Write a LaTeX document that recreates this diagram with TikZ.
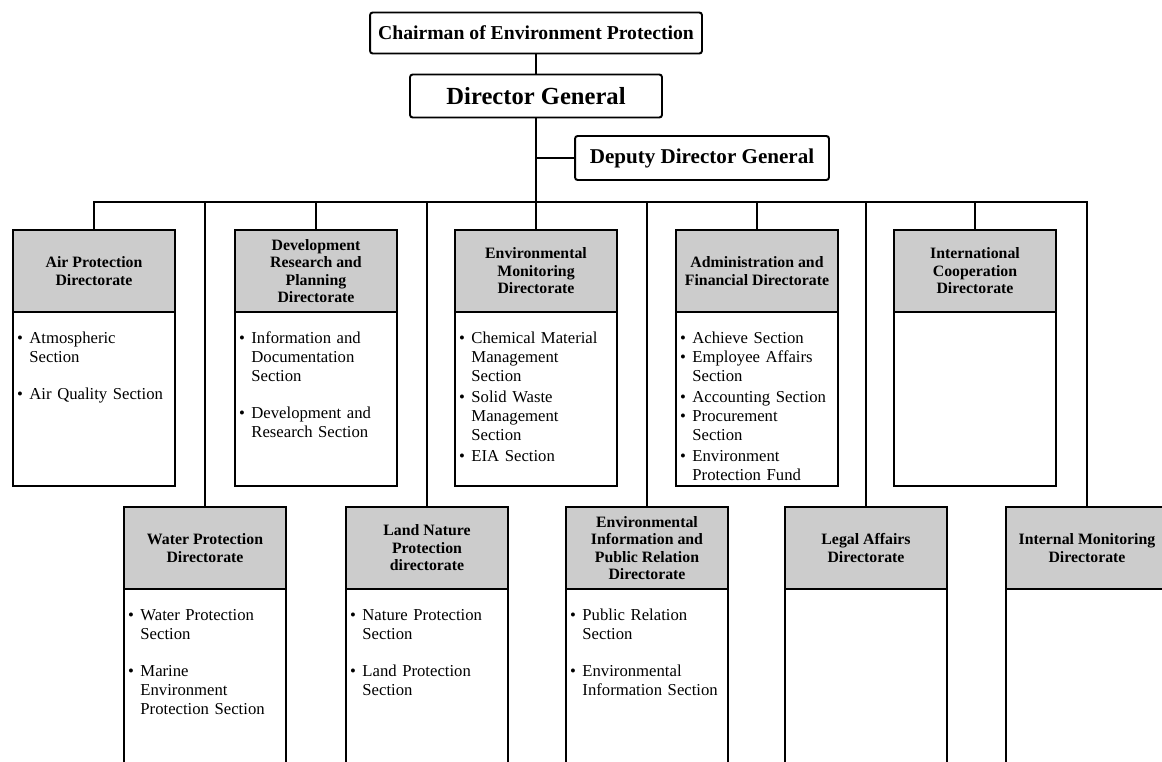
\documentclass[tikz,border=0pt]{standalone}
\usepackage{fontspec}
\setmainfont{Liberation Serif}
\usetikzlibrary{positioning}

\newcommand{\itm}[1]{\noindent\hspace*{0.5pt}\makebox[7pt][l]{\textbullet}\begin{tabular}[t]{@{}l@{}}#1\end{tabular}\par}
\newcommand{\gap}{\vspace{9pt}}
\newcommand{\seclist}[2]{\parbox[t][#1][t]{\linewidth}{\vspace*{10.5pt}#2}}

\begin{document}
\begin{tikzpicture}[x=0.02cm, y=-0.02cm,
    boss/.style={draw, line width=1.1pt, rounded corners=1.5pt, inner sep=1pt},
    head/.style={draw, line width=1.1pt, fill=black!20, anchor=north, minimum width=3.25cm,
      minimum height=1.64cm, inner sep=1pt, outer sep=0pt, align=center,
      font=\bfseries\fontsize{9}{10}\selectfont},
    sec/.style={draw, line width=1.1pt, inner xsep=2pt, inner ysep=0pt, outer sep=0pt,
      text width=3.11cm, align=left, font=\fontsize{9.5}{10.8}\selectfont},
    link/.style={line width=0.9pt}]
  \useasboundingbox (0,0) rectangle (1162,761);
  \clip (0,0) rectangle (1162,761);

  % top of the chart
  \node[boss, minimum width=6.64cm, minimum height=0.82cm, font=\bfseries\fontsize{11.2}{13}\selectfont]
    (chair) at (536,33) {Chairman of Environment Protection};
  \node[boss, minimum width=5.04cm, minimum height=0.86cm, font=\bfseries\fontsize{14}{16}\selectfont]
    (dg) at (536,96) {Director General};
  \node[boss, minimum width=5.08cm, minimum height=0.88cm, font=\bfseries\fontsize{12}{14}\selectfont]
    (dep) at (702,158) {Deputy Director General};
  \coordinate (bus) at (536,202);

  % upper row of directorates
  \node[head] (air) at (94,230) {Air Protection\\Directorate};
  \node[sec, below=0pt of air] (airsec) {\seclist{3.48cm}{%
    \itm{Atmospheric\\Section}\gap\itm{Air Quality Section}}};
  \node[head] (dev) at (316,230) {Development\\Research and\\Planning\\Directorate};
  \node[sec, below=0pt of dev] (devsec) {\seclist{3.48cm}{%
    \itm{Information and\\Documentation\\Section}\gap\itm{Development and\\Research Section}}};
  \node[head] (emon) at (536,230) {Environmental\\Monitoring\\Directorate};
  \node[sec, below=0pt of emon] (emonsec) {\seclist{3.48cm}{%
    \itm{Chemical Material\\Management\\Section}\itm{Solid Waste\\Management\\Section}\itm{EIA Section}}};
  \node[head] (admin) at (757,230) {Administration and\\Financial Directorate};
  \node[sec, below=0pt of admin] (adminsec) {\seclist{3.48cm}{%
    \itm{Achieve Section}\itm{Employee Affairs\\Section}\itm{Accounting Section}%
    \itm{Procurement\\Section}\itm{Environment\\Protection Fund}}};
  \node[head] (intl) at (975,230) {International\\Cooperation\\Directorate};
  \node[sec, below=0pt of intl] (intlsec) {\seclist{3.48cm}{}};

  % lower row of directorates
  \node[head] (water) at (205,507) {Water Protection\\Directorate};
  \node[sec, below=0pt of water] (watersec) {\seclist{4.2cm}{%
    \itm{Water Protection\\Section}\gap\itm{Marine\\Environment\\Protection Section}}};
  \node[head] (land) at (427,507) {Land Nature\\Protection\\directorate};
  \node[sec, below=0pt of land] (landsec) {\seclist{4.2cm}{%
    \itm{Nature Protection\\Section}\gap\itm{Land Protection\\Section}}};
  \node[head] (einfo) at (647,507) {Environmental\\Information and\\Public Relation\\Directorate};
  \node[sec, below=0pt of einfo] (einfosec) {\seclist{4.2cm}{%
    \itm{Public Relation\\Section}\gap\itm{Environmental\\Information Section}}};
  \node[head] (legal) at (866,507) {Legal Affairs\\Directorate};
  \node[sec, below=0pt of legal] (legalsec) {\seclist{4.2cm}{}};
  \node[head] (intmon) at (1087,507) {Internal Monitoring\\Directorate};
  \node[sec, below=0pt of intmon] (intmonsec) {\seclist{4.2cm}{}};

  % lines
  \draw[link] (chair.south) -- (dg.north);
  \draw[link] (dg.south) -- (emon.north);
  \draw[link] (dep.west) -- (dep.west -| dg.south);
  \draw[link] (air.north) -- (air.north |- bus) -- (intmon.north |- bus) -- (intmon.north);
  \draw[link] (water.north) -- (water.north |- bus)
              (dev.north) -- (dev.north |- bus)
              (land.north) -- (land.north |- bus)
              (einfo.north) -- (einfo.north |- bus)
              (admin.north) -- (admin.north |- bus)
              (legal.north) -- (legal.north |- bus)
              (intl.north) -- (intl.north |- bus);
\end{tikzpicture}
\end{document}
